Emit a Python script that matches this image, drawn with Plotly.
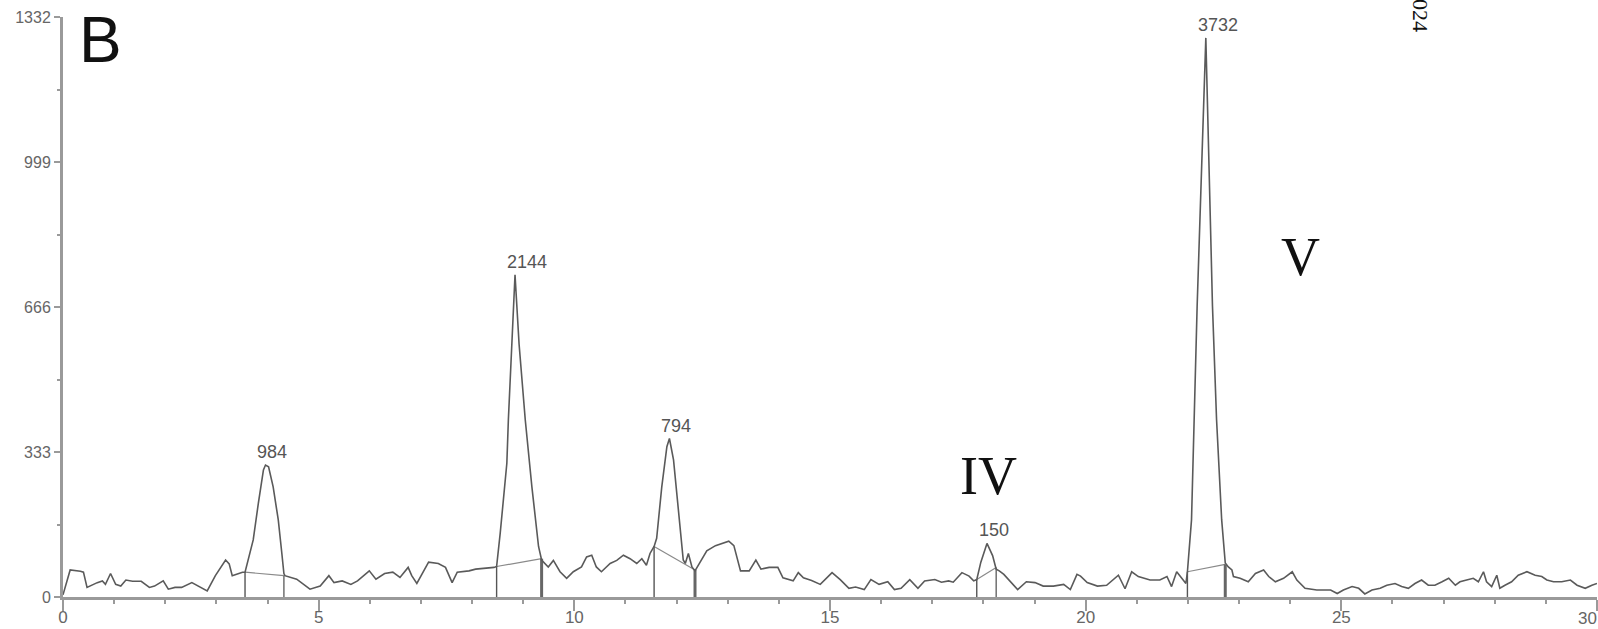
import plotly.graph_objects as go

# ---- chromatogram trace (retention time in min, signal) ----
rt = [0.0, 0.14, 0.34, 0.40, 0.47, 0.57, 0.67, 0.77, 0.83, 0.93, 1.03, 1.13, 1.23, 1.36, 1.53,
      1.69, 1.79, 1.96, 2.06, 2.19, 2.32, 2.52, 2.68, 2.82, 2.98, 3.18, 3.25, 3.31, 3.41, 3.51,
      3.56, 3.62, 3.72, 3.82, 3.92, 3.96, 4.02, 4.11, 4.21, 4.28, 4.32, 4.34, 4.57, 4.83, 5.03,
      5.20, 5.30, 5.46, 5.63, 5.76, 5.99, 6.12, 6.29, 6.45, 6.59, 6.75, 6.82, 6.92, 7.05, 7.15,
      7.34, 7.48, 7.61, 7.71, 7.94, 8.07, 8.43, 8.48, 8.55, 8.68, 8.71, 8.78, 8.84, 8.92, 9.04,
      9.17, 9.30, 9.36, 9.49, 9.59, 9.72, 9.85, 9.98, 10.14, 10.24, 10.34, 10.43, 10.53, 10.70,
      10.83, 10.96, 11.09, 11.22, 11.32, 11.41, 11.48, 11.56, 11.61, 11.71, 11.81, 11.86, 11.94,
      12.04, 12.13, 12.17, 12.23, 12.30, 12.36, 12.59, 12.76, 13.02, 13.12, 13.25, 13.42, 13.55,
      13.65, 13.81, 13.98, 14.08, 14.28, 14.38, 14.48, 14.64, 14.81, 15.04, 15.20, 15.37, 15.50,
      15.67, 15.80, 15.96, 16.13, 16.26, 16.39, 16.56, 16.72, 16.85, 17.05, 17.18, 17.32, 17.41,
      17.58, 17.72, 17.81, 17.87, 17.95, 18.07, 18.18, 18.25, 18.31, 18.40, 18.54, 18.67, 18.84,
      19.01, 19.17, 19.37, 19.57, 19.70, 19.83, 19.90, 20.03, 20.23, 20.41, 20.54, 20.64, 20.77,
      20.90, 21.03, 21.26, 21.45, 21.59, 21.68, 21.78, 21.88, 21.96, 21.99, 22.07, 22.18, 22.35,
      22.48, 22.56, 22.66, 22.73, 22.79, 22.86, 22.89, 23.02, 23.18, 23.32, 23.48, 23.58, 23.71,
      23.87, 24.04, 24.13, 24.29, 24.52, 24.79, 24.92, 25.04, 25.21, 25.34, 25.46, 25.60, 25.76,
      25.89, 26.05, 26.18, 26.31, 26.44, 26.57, 26.70, 26.83, 26.97, 27.10, 27.23, 27.32, 27.45,
      27.58, 27.68, 27.78, 27.84, 27.94, 28.04, 28.10, 28.20, 28.33, 28.46, 28.63, 28.79, 28.92,
      29.02, 29.15, 29.31, 29.48, 29.61, 29.77, 29.90, 30.0]
signal = [5, 62, 59, 57, 22, 28, 33, 37, 29, 54, 29, 25, 39, 36, 36,
          22, 25, 37, 18, 22, 22, 33, 22, 14, 49, 85, 76, 49, 53, 57,
          57, 85, 131, 215, 292, 303, 299, 253, 177, 100, 54, 49, 41, 18, 25,
          49, 33, 37, 29, 37, 60, 41, 54, 57, 45, 68, 49, 31, 60, 80,
          77, 68, 33, 57, 60, 64, 68, 70, 146, 307, 407, 580, 740, 580, 407,
          253, 116, 85, 69, 84, 58, 43, 58, 69, 92, 96, 69, 58, 77,
          84, 96, 88, 77, 88, 73, 100, 116, 135, 253, 345, 364, 315,
          192, 85, 77, 100, 69, 60, 106, 118, 128, 118, 60, 60, 85,
          64, 68, 68, 44, 37, 56, 44, 38, 29, 56, 40, 20, 23,
          17, 40, 29, 35, 17, 20, 40, 20, 37, 40, 34, 37, 34,
          56, 48, 37, 40, 80, 123, 95, 64, 60, 52, 33, 17, 35,
          33, 25, 25, 29, 17, 52, 48, 33, 25, 27, 39, 50, 19,
          58, 47, 39, 39, 47, 24, 58, 43, 31, 58, 177, 668, 1284,
          668, 407, 177, 78, 69, 62, 47, 43, 35, 54, 62, 47, 35,
          43, 58, 39, 20, 16, 16, 8, 16, 24, 20, 7, 16, 20,
          27, 31, 24, 20, 31, 39, 27, 27, 35, 43, 27, 35, 39,
          43, 35, 58, 35, 24, 50, 20, 27, 35, 50, 58, 50, 47,
          39, 35, 35, 39, 27, 20, 27, 31]

# ---- integration results ----
peak_rt = [3.96, 8.84, 11.86, 18.07, 22.35]
peak_height = [303, 740, 364, 123, 1284]
peak_area_label = ["984", "2144", "794", "150", "3732"]
peak_start = [3.56, 8.48, 11.56, 17.87, 21.99]
peak_start_level = [57, 70, 116, 40, 58]
peak_end = [4.32, 9.36, 12.36, 18.25, 22.73]
peak_end_level = [49, 88, 62, 68, 75]

# ---- axes ----
x_ticks = [0, 5, 10, 15, 20, 25, 30]
x_tick_text = ["0", "5", "10", "15", "20", "25", ""]
x_last_label = "30"
x_minor_ticks = [1, 2, 3, 4, 6, 7, 8, 9, 11, 12, 13, 14, 16, 17, 18, 19,
                 21, 22, 23, 24, 26, 27, 28, 29]
y_ticks = [0, 333, 666, 999, 1332]
y_tick_text = ["0", "333", "666", "999", "1332"]
y_minor_ticks = [166.5, 499.5, 832.5, 1165.5]

fig = go.Figure()

# integration baselines and drop lines
thick_end = [False, True, True, False, True]
for i in range(len(peak_rt)):
    fig.add_trace(go.Scatter(x=[peak_start[i], peak_end[i]],
                             y=[peak_start_level[i], peak_end_level[i]],
                             mode="lines", line=dict(color="#8a8a8a", width=1.2),
                             hoverinfo="skip", showlegend=False))
    fig.add_trace(go.Scatter(x=[peak_start[i], peak_start[i]], y=[0, peak_start_level[i]],
                             mode="lines", line=dict(color="#555555", width=1.4),
                             hoverinfo="skip", showlegend=False))
    fig.add_trace(go.Scatter(x=[peak_end[i], peak_end[i]], y=[0, peak_end_level[i]],
                             mode="lines",
                             line=dict(color="#666666", width=3 if thick_end[i] else 1.4),
                             hoverinfo="skip", showlegend=False))

fig.add_trace(go.Scatter(x=rt, y=signal, mode="lines",
                         line=dict(color="#5a5a5a", width=1.6),
                         showlegend=False))

# peak area labels
for i in range(len(peak_rt)):
    fig.add_annotation(x=peak_rt[i], y=peak_height[i], text=peak_area_label[i],
                       showarrow=False, xanchor="left", yanchor="bottom",
                       xshift=-10, yshift=1,
                       font=dict(family="Liberation Sans", size=18, color="#555555"))

W, H = 1598, 629
L, R, T, B = 63, 1, 17, 32
pw, ph = W - L - R, H - T - B


def px(xp):
    return (xp - L) / pw


def py(yp):
    return (H - B - yp) / ph


fig.add_annotation(x=px(100), y=py(40), xref="paper", yref="paper", text="B",
                   showarrow=False, xanchor="center", yanchor="middle",
                   font=dict(family="Liberation Sans", size=64, color="#111111"))
fig.add_annotation(x=px(988), y=py(476), xref="paper", yref="paper", text="IV",
                   showarrow=False, xanchor="center", yanchor="middle",
                   font=dict(family="Liberation Serif", size=54, color="#111111"))
fig.add_annotation(x=px(1300), y=py(257), xref="paper", yref="paper", text="V",
                   showarrow=False, xanchor="center", yanchor="middle",
                   font=dict(family="Liberation Serif", size=54, color="#111111"))
fig.add_annotation(x=px(1421), y=py(15), xref="paper", yref="paper", text="024",
                   showarrow=False, xanchor="center", yanchor="middle", textangle=90,
                   font=dict(family="Liberation Serif", size=22, color="#111111"))
# last x tick label, kept inside the page at the right edge
fig.add_annotation(x=x_ticks[-1], y=0, xref="x", yref="paper", text=x_last_label,
                   showarrow=False, xanchor="right", yanchor="top", xshift=2, yshift=-10,
                   font=dict(family="Liberation Sans", size=17, color="#666666"))

axis_grey = "#9a9a9a"
fig.update_layout(
    width=W, height=H,
    margin=dict(l=L, r=R, t=T, b=B, pad=0, autoexpand=False),
    paper_bgcolor="white", plot_bgcolor="white",
    xaxis=dict(range=[0, 30], tickvals=x_ticks, ticktext=x_tick_text, ticks="outside",
               ticklen=11, tickwidth=2,
               tickcolor=axis_grey, showline=True, linecolor=axis_grey, linewidth=3,
               showgrid=False, zeroline=False, ticklabeloverflow="allow", automargin=False,
               ticklabelstandoff=-8,
               minor=dict(tickvals=x_minor_ticks, ticks="outside", ticklen=4,
                          tickcolor=axis_grey, tickwidth=2, showgrid=False),
               tickfont=dict(family="Liberation Sans", size=17, color="#666666")),
    yaxis=dict(range=[0, 1332], tickvals=y_ticks, ticktext=y_tick_text, ticks="outside",
               ticklen=6, tickwidth=2, tickcolor=axis_grey, showline=True,
               linecolor=axis_grey, linewidth=3, showgrid=False, zeroline=False,
               ticklabeloverflow="allow", automargin=False,
               minor=dict(tickvals=y_minor_ticks, ticks="outside", ticklen=3,
                          tickcolor=axis_grey, tickwidth=2, showgrid=False),
               tickfont=dict(family="Liberation Sans", size=16, color="#666666")),
)

fig.write_html("out.html")
